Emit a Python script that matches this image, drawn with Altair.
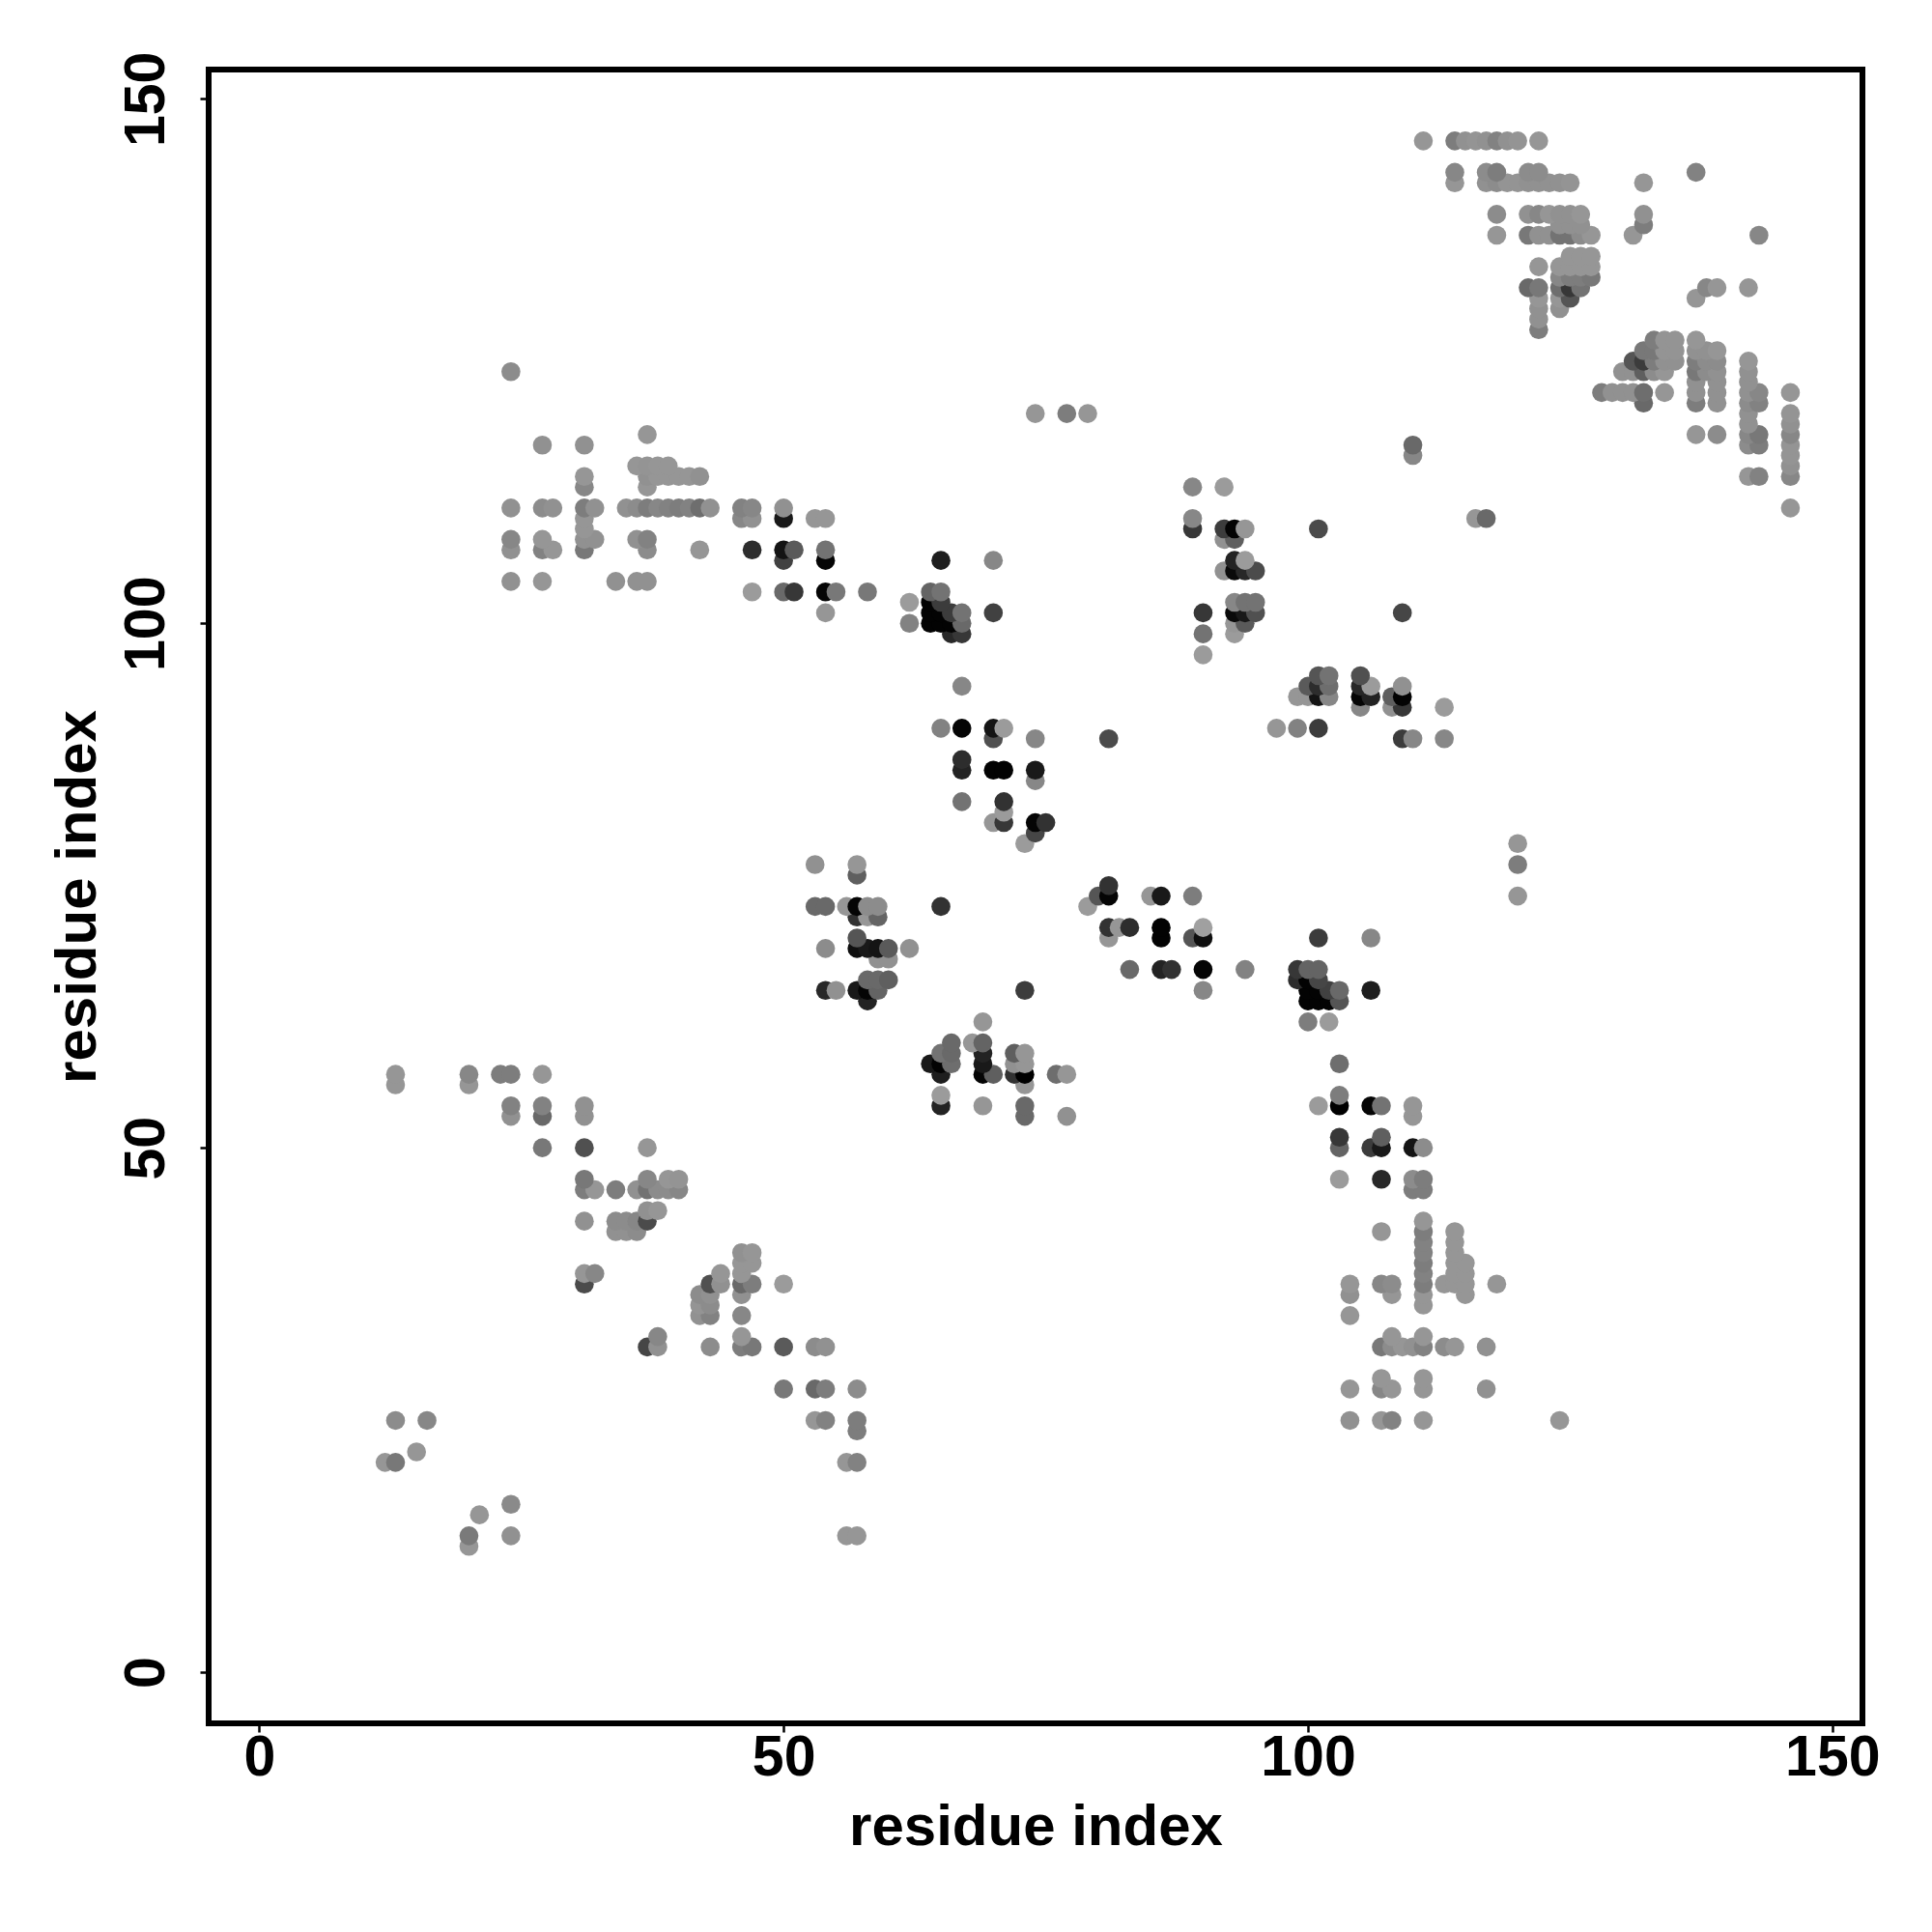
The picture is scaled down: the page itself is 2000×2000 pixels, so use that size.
import altair as alt
import pandas as pd

row_y = [12,13,15,16,20,21,23,24,27,28,31,32,34,35,36,37,38,39,40,41,42,43,44,46,47,50,51,53,54,55,56,57,58,59,60,62,64,65,66,67,68,69,70,71,72,73,74,75,76,77,79,80,81,82,83,85,86,87,89,90,92,93,94,95,97,99,100,101,102,103,104,105,106,107,108,109,110,111,113,114,115,116,117,118,119,120,121,122,123,124,125,126,127,128,129,130,131,132,133,134,135,137,138,139,142,143,146]

row_x = [
[20],[20,24,56,57],[21],[24],[12,13,56,57],[15],[57],
[13,16,53,54,57,104,107,108,111,124],
[50,53,54,57,104,107,108,111,117],
[107,111],
[37,38,43,46,47,50,53,54,107,108,109,110,111,113,114,117],
[38,46,108,111],
[42,43,46,104],
[42,43,111],
[42,43,46,104,108,111,115],
[31,43,44,46,47,50,104,107,108,111,113,114,115,118],
[31,32,44,46,111,114,115],
[46,47,111,114,115],
[46,47,111,114],
[111,114],
[34,35,36,107,111,114],
[31,34,35,36,37,111],
[37,38],
[31,32,34,36,37,38,39,40,110,111],
[31,37,39,40,103,107,110,111],
[27,31,37,103,106,107,110,111],
[103,107],
[24,27,31,73,77,110],
[24,27,31,65,69,73,101,103,106,107,110],
[65,103],
[13,20,73],
[13,20,23,24,27,65,69,70,72,73,76,77],
[64,65,66,69,72,73,103],
[65,66,69,72,73],
[66,68,69],
[69,100,102],
[58,100,101,102,103],
[54,55,57,58,59,73,90,100,101,102,103,106],
[58,59,60,99,100,101],
[83,86,87,90,94,99,100,101],
[59,60],
[54,57,58,59,60,62],
[57,81,86,89,90,101,106],
[81,82,83,86,90],
[57,58,59],
[53,54,56,57,58,59,65,79],
[80,81,85,86,89,120],
[81],
[57],
[53,57,120],
[73,120],
[74],
[70,71,74,75],
[71],
[67,71],
[74],
[67,70,71,74],
[67],
[70,74,81,109,110,113],
[65,67,70,71,97,99,101],
[105,108,109,113],
[99,100,101,102,105,106,108,109],
[67,100,101,102,105,106,109],
[101,102,105],
[90],
[66,67,90,93],
[62,64,65,66,67,93,94],
[54,64,65,66,67,70,90,93,94,95,109],
[62,64,65,93,94,95],
[47,50,51,54,55,58,64,65],
[24,27,34,36,37],
[92,93,94,95],
[50,54,65,70,93,94],
[24,27,28,31,37,42,47,50,51,54],
[24,27,31,32,36,37,92,93],
[31,89,92,93,94,101],
[31,46,47,50,53,54,89,116,117],
[24,27,28,31,32,35,36,37,38,39,40,41,42,43,46,47,50,146],
[31,37,89,92],
[31,37,38,39,40,41,42,142,143,146],
[36,37,38,39,146],
[110,146],
[27,31,110,142,143,146],
[37,137,139,142,143,146],
[142,146],
[74,77,79,142,146],
[132,137,139,142,143],
[128,129,130,131,132,134,137,139,142,143,146],
[137,139,142],
[24,130,131,132,133,134,137,138,139,142],
[131,132,133,134,135,137,138,139,142],
[132,133,134,135,137,138,139],
[133,134,135,137],
[122],
[122],
[122,124],
[122,124,125,137],
[121,122,124,125,126,138,139,142],
[124,125,126,127],
[122,124,125,126,127],
[125,126,127],
[118,121,122,123,124,125,126,127,131,143],
[124,125,126,132],
[118,121,122,123,124,125,126,132],
[114,117,118,119,120,121,122,123,124,125,132],
[114,117,118,121,122,137],
[111,114,115,116,117,118,119,120,122],
]

row_gray = [
[150],[122,145,150,150],[150],[138],[150,120,150,130],[150],[125],
[140,135,150,130,125,145,150,130,150,150],
[120,105,125,140,150,135,150,150,145],
[150,150],
[70,145,140,125,120,90,140,145,120,140,150,145,130,140,150,145],
[135,150,150,150],
[145,130,135,150],
[148,140,150],
[140,145,145,145,150,150,150],
[75,80,145,105,125,155,150,135,140,125,150,150,150,150],
[150,135,150,150,130,150,150],
[150,150,125,150,150],
[145,150,130,150],
[130,150],
[145,145,140,150,125,150],
[145,140,140,135,75,150],
[145,150],
[125,150,125,145,115,140,140,135,125,125],
[120,135,150,148,155,40,140,125],
[120,80,150,100,60,25,20,140],
[55,95],
[145,105,145,105,145,150],
[130,130,145,35,150,105,155,0,5,115,150],
[155,125],
[150,150,150],
[150,135,125,125,150,30,5,95,50,0,110,150],
[25,3,110,25,145,150,110],
[115,105,35,95,150],
[105,150,100],
[150,125,155],
[35,3,3,3,85],
[40,145,25,5,100,60,135,3,3,65,105,30],
[105,105,95,45,3,70],
[105,35,50,5,130,55,100,100],
[145,145],
[140,15,25,20,90,145],
[85,150,3,85,15,60,135],
[50,150,45,3,160],
[50,150,100],
[105,105,150,5,140,140,50,155],
[85,5,150,25,125,150],
[50],
[95],
[145,150,125],
[155,150],
[70],
[150,55,5,50],
[155],
[115,50],
[135],
[35,3,3,25],
[45],
[80,135,75,60,135,135],
[130,5,20,155,150,130,60],
[135,145,55,155],
[150,150,20,135,5,35,95,3],
[135,90,45,110,40,155,145],
[85,115,80],
[155],
[40,55,115,155],
[130,3,3,3,105,150,90],
[150,3,3,60,115,65,55,10,25,80,70],
[155,3,60,135,115,115],
[155,105,55,5,120,120,100,115],
[145,150,145,145,145],
[145,10,40,75],
[65,5,30,135,35,155],
[145,130,150,120,140,150,45,20,90,115],
[135,150,145,145,145,130,145,95],
[150,55,60,3,150,75],
[150,135,145,25,150,150,135,150,105],
[145,140,145,125,145,145,140,125,135,130,125,130,110,145,130,135,145,150],
[135,150,135,155],
[150,145,150,150,150,150,145,150,130,135],
[150,148,150,150,145],
[135,148],
[145,145,105,140,125,148],
[150,150,140,135,120,135],
[145,145],
[150,125,150,145,148],
[105,125,145,140,130],
[125,145,145,145,110,150,145,145,145,135,150],
[145,145,145],
[140,145,145,95,140,150,120,140,145,145],
[85,60,125,145,145,125,140,140,150],
[120,120,148,148,145,145,150],
[125,148,148,150],
[125],
[145],
[145,145],
[150,150,85,150],
[105,120,110,55,115,135,150,150],
[135,125,125,120],
[150,150,150,150,150],
[150,150,150],
[150,120,145,145,115,115,140,150,150,135],
[145,145,145,125],
[140,145,135,150,145,145,150,145],
[150,145,140,148,148,145,145,145,145,148,150],
[135,140,125,140,140,130],
[150,125,145,148,145,130,145,148,150],
]

tick_values = [0, 50, 100, 150]
x_domain = [-4.82, 152.87]
y_domain = [-4.88, 152.80]
title_text = "residue index"

records = []
for y, xs, gs in zip(row_y, row_x, row_gray):
    for x, g in zip(xs, gs):
        records.append({"x": x, "y": y, "shade": f"rgb({g},{g},{g})"})
df = pd.DataFrame(records)

FONT = "Liberation Sans"
common = dict(
    values=tick_values, domain=False, grid=False, tickColor="black", tickWidth=2.5,
    tickSize=9, labelFont=FONT, labelFontWeight="bold", labelFontSize=59,
    labelColor="black", titleFont=FONT, titleFontWeight="bold", titleFontSize=60,
    titleColor="black", labelFlush=False, labelOverlap=False, labelBound=False,
)

chart = (
    alt.Chart(df)
    .mark_circle(size=385, opacity=1)
    .encode(
        x=alt.X("x:Q", scale=alt.Scale(domain=x_domain, nice=False, zero=False),
                axis=alt.Axis(title=title_text, labelPadding=-3, labelBaseline="top",
                              titleX=856, titleY=125, titleBaseline="alphabetic", **common)),
        y=alt.Y("y:Q", scale=alt.Scale(domain=y_domain, nice=False, zero=False),
                axis=alt.Axis(title=title_text, labelAngle=270, labelAlign="center",
                              labelBaseline="bottom", labelPadding=26,
                              titleX=-118, titleY=856, titleAngle=270, titleAlign="center",
                              titleBaseline="alphabetic", **common)),
        color=alt.Color("shade:N", scale=None),
    )
    .properties(
        width=1712, height=1712,
        autosize=alt.AutoSizeParams(type="none"),
        padding={"left": 208, "top": 64, "right": 64, "bottom": 200},
    )
    .configure_view(stroke="black", strokeWidth=6)
)

chart.save("out.html", embed_options={"renderer": "svg", "actions": False})
